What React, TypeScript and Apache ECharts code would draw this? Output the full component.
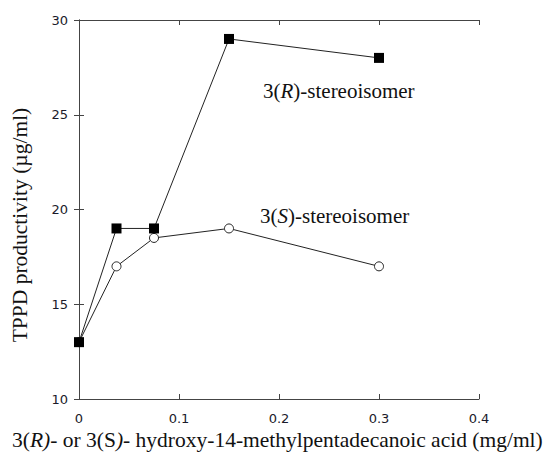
import React, { useEffect, useRef } from "react";
import * as echarts from "echarts";

const concentrations = [0, 0.0375, 0.075, 0.15, 0.3];
const rValues = [13, 19, 19, 29, 28];
const sValues = [13, 17, 18.5, 19, 17];
const xTicks = [0, 0.1, 0.2, 0.3, 0.4];
const yTicks = [10, 15, 20, 25, 30];

export default function App() {
  const ref = useRef<HTMLDivElement>(null);
  useEffect(() => {
    const chart = echarts.init(ref.current!, null, { renderer: "svg" });
    const tickFont = { fontFamily: "DejaVu Sans", fontSize: 13, color: "#1a1a2a" };
    const axisLine = { show: true, lineStyle: { color: "#444", width: 1 } };
    const axisTick = { show: true, inside: true, length: 5, lineStyle: { color: "#444" } };
    const serif = "Liberation Serif";
    const fs = 21;
    const rich = {
      a: { fontFamily: serif, fontSize: fs, fill: "#111" },
      i: { fontFamily: serif, fontSize: fs, fontStyle: "italic", fill: "#111" },
    };
    const richX = {
      a: { fontFamily: serif, fontSize: 21.5, fill: "#111" },
      i: { fontFamily: serif, fontSize: 21.5, fontStyle: "italic", fill: "#111" },
    };
    chart.setOption({
      animation: false,
      backgroundColor: "#fff",
      grid: { left: 79, top: 20, width: 400, height: 379, containLabel: false },
      xAxis: [
        {
          type: "value", min: xTicks[0], max: xTicks[xTicks.length - 1], interval: 0.1,
          position: "bottom", axisLine, axisTick, splitLine: { show: false },
          axisLabel: { ...tickFont, margin: 13, formatter: (v: number) => String(Math.round(v * 10) / 10) },
        },
        {
          type: "value", min: xTicks[0], max: xTicks[xTicks.length - 1], interval: 0.1,
          position: "top", axisLine, axisTick, splitLine: { show: false }, axisLabel: { show: false },
        },
      ],
      yAxis: [
        {
          type: "value", min: yTicks[0], max: yTicks[yTicks.length - 1], interval: 5,
          position: "left", axisLine, axisTick, splitLine: { show: false },
          axisLabel: { ...tickFont, margin: 11 },
        },
        {
          type: "value", min: yTicks[0], max: yTicks[yTicks.length - 1], interval: 5,
          position: "right", axisLine, axisTick, splitLine: { show: false }, axisLabel: { show: false },
        },
      ],
      series: [
        {
          type: "line",
          data: concentrations.map((x, i) => [x, sValues[i]]),
          symbol: "circle", symbolSize: 9,
          lineStyle: { color: "#222", width: 1 },
          itemStyle: { color: "#fff", borderColor: "#222", borderWidth: 1 },
          z: 2,
        },
        {
          type: "line",
          data: concentrations.map((x, i) => [x, rValues[i]]),
          symbol: "rect", symbolSize: 10,
          lineStyle: { color: "#222", width: 1 },
          itemStyle: { color: "#000", borderColor: "#000", borderWidth: 0 },
          z: 3,
        },
      ],
      graphic: [
        {
          type: "text", left: 263, top: 80,
          style: { text: "{a|3(}{i|R}{a|)-stereoisomer}", rich },
        },
        {
          type: "text", left: 260, top: 205,
          style: { text: "{a|3(}{i|S}{a|)-stereoisomer}", rich },
        },
        {
          type: "text", left: 12, top: 429,
          style: {
            text: "{a|3(}{i|R}{i|)}{a|- or 3(S}{i|)}{a|- hydroxy-14-methylpentadecanoic acid (mg/ml)}",
            rich: richX,
          },
        },
        {
          type: "text", x: 20, y: 225, rotation: Math.PI / 2,
          style: {
            text: "TPPD productivity (µg/ml)",
            fontFamily: serif, fontSize: 21.5, fill: "#111",
            align: "center", verticalAlign: "middle",
          },
        },
      ],
    });
    return () => chart.dispose();
  }, []);
  return <div ref={ref} style={{ width: 544, height: 454, position: "absolute", left: 0, top: 0 }} />;
}
